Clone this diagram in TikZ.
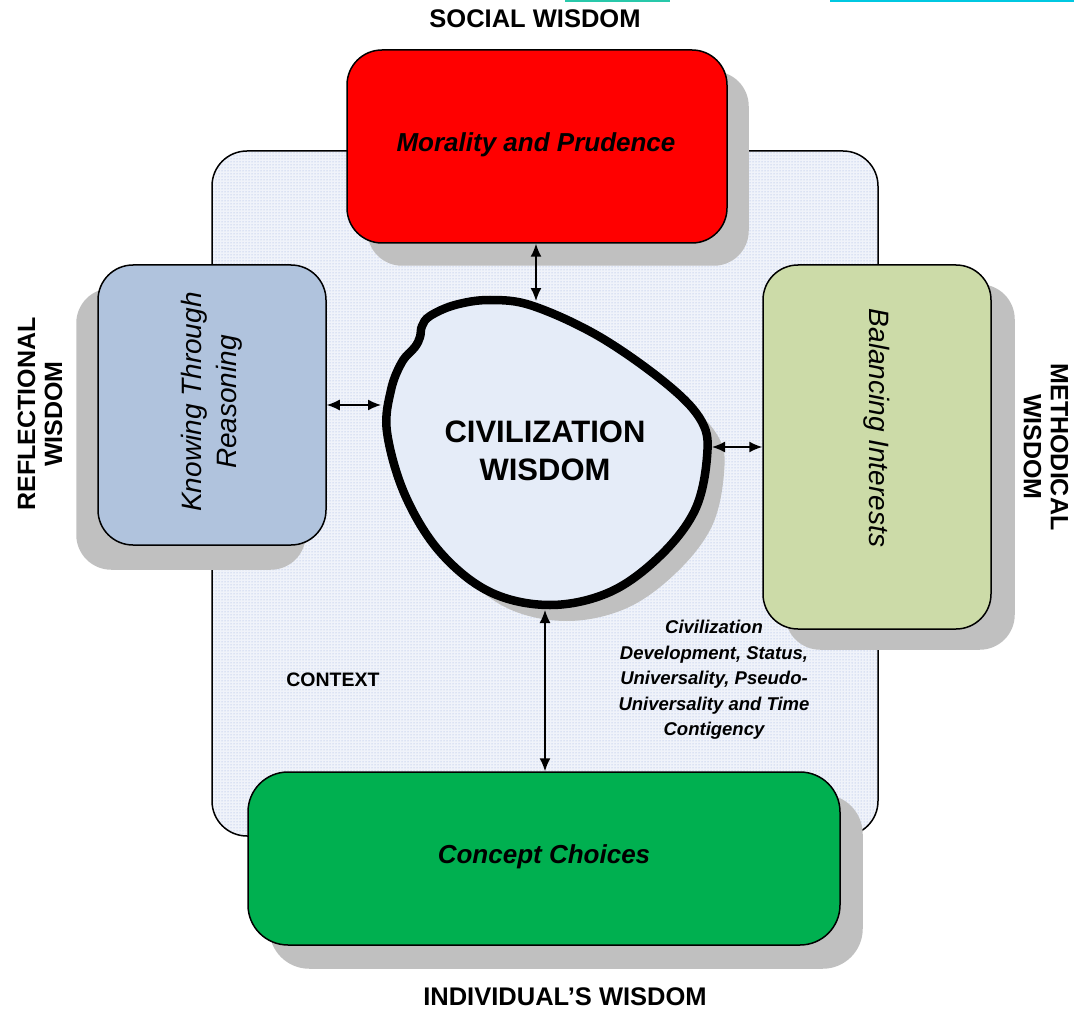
\documentclass[tikz,border=0pt]{standalone}
\usepackage{fontspec}
\setmainfont{Liberation Sans}
\usetikzlibrary{arrows.meta,calc,patterns}
\definecolor{ctxfill}{RGB}{240,243,250}
\definecolor{dotc}{RGB}{150,172,222}
\definecolor{shadowc}{RGB}{192,192,192}
\definecolor{redbox}{RGB}{255,0,0}
\definecolor{bluebox}{RGB}{176,195,221}
\definecolor{lgreenbox}{RGB}{204,219,168}
\definecolor{greenbox}{RGB}{0,176,80}
\definecolor{blobfill}{RGB}{229,236,248}
\definecolor{tealline}{RGB}{40,200,170}
\definecolor{cyanline}{RGB}{0,200,225}
\pgfdeclarelayer{back}
\pgfdeclarelayer{shade}
\pgfsetlayers{back,shade,main}
\tikzset{
  box/.style={draw=black, line width=1.5pt, rounded corners=35pt, inner sep=0pt},
  boxtext/.style={inner sep=0pt, align=center, font=\itshape\fontsize{28}{35}\selectfont},
  boldtext/.style={inner sep=0pt, align=center, font=\bfseries\itshape\fontsize{26}{30}\selectfont},
  sidelabel/.style={inner sep=0pt, align=center, font=\bfseries\fontsize{25}{27}\selectfont},
  link/.style={line width=1.5pt, {Latex[length=13pt,width=11pt]}-{Latex[length=13pt,width=11pt]}},
}
\begin{document}
\begin{tikzpicture}[x=1pt,y=-1pt]
\useasboundingbox (0,0) rectangle (1074,1011);

% top artifacts
\draw[tealline, line width=2.5pt] (565,1) -- (670,1);
\draw[cyanline, line width=2.5pt] (830,1) -- (1074,1);

% context
\begin{pgfonlayer}{back}
\fill[ctxfill, rounded corners=35pt] (212,151) rectangle (878,836);
\fill[pattern=dots, pattern color=dotc, rounded corners=35pt] (212,151) rectangle (878,836);
\draw[line width=1.5pt, rounded corners=35pt] (212,151) rectangle (878,836);
\end{pgfonlayer}
\node[sidelabel, font=\bfseries\fontsize{19.5}{22}\selectfont] (ctx) at (333,680) {CONTEXT};

% boxes
\node[box, fill=redbox, minimum width=380pt, minimum height=193pt] (red) at (537,146.5) {};
\node[boldtext] (redt) at (536,145) {Morality and Prudence};

\node[box, fill=bluebox, minimum width=228pt, minimum height=280pt] (blue) at (212,405) {};
\node[boxtext, rotate=90] (bluet) at (212,402) {Knowing Through\\Reasoning};

\node[box, fill=lgreenbox, minimum width=228pt, minimum height=364pt] (lgreen) at (877,447) {};
\node[boxtext, rotate=-90] (lgreent) at (877,428) {Balancing Interests};

\node[box, fill=greenbox, rounded corners=40pt, minimum width=592pt, minimum height=173pt] (green) at (544,858.5) {};
\node[boldtext] (greent) at (544,857) {Concept Choices};

\begin{pgfonlayer}{shade}
\fill[shadowc, rounded corners=35pt] ($(red.south west)+(21,22)$) rectangle ($(red.north east)+(21,22)$);
\fill[shadowc, rounded corners=35pt] ($(blue.south west)+(-21,24)$) rectangle ($(blue.north east)+(-21,24)$);
\fill[shadowc, rounded corners=35pt] ($(lgreen.south west)+(23,20)$) rectangle ($(lgreen.north east)+(23,20)$);
\fill[shadowc, rounded corners=40pt] ($(green.south west)+(22,23)$) rectangle ($(green.north east)+(22,23)$);
\fill[shadowc, shift={(17,16)}] plot[smooth cycle, tension=0.6] coordinates {
  (430,316) (455,305) (490,300) (533,306) (600,337) (668,385) (702,422) (707,457) (695,510)
  (660,556) (610,592) (550,605) (490,592) (440,552) (405,495) (387,432) (391,390)
  (402,362) (415,347) (420,337) (422,326)};
\end{pgfonlayer}

% blob
\draw[fill=blobfill, line width=8.5pt] plot[smooth cycle, tension=0.6] coordinates {
  (430,316) (455,305) (490,300) (533,306) (600,337) (668,385) (702,422) (707,457) (695,510)
  (660,556) (610,592) (550,605) (490,592) (440,552) (405,495) (387,432) (391,390)
  (402,362) (415,347) (420,337) (422,326)};
\node[sidelabel, font=\bfseries\fontsize{31}{38}\selectfont] (civ) at (545,451) {CIVILIZATION\\WISDOM};

\coordinate (bN) at (536,301);
\coordinate (bW) at (381,405);
\coordinate (bE) at (712,447);
\coordinate (bS) at (545,610);

\draw[link] (red.south -| bN) -- (bN);
\draw[link] (blue.east |- bW) -- (bW);
\draw[link] (bE) -- (lgreen.west |- bE);
\draw[link] (bS) -- (green.north -| bS);

\node[inner sep=0pt, align=center, font=\bfseries\itshape\fontsize{18.5}{25.5}\selectfont] (note) at (714,680)
  {Civilization\\Development, Status,\\Universality, Pseudo-\\Universality and Time\\Contigency};

% outer labels
\node[sidelabel, font=\bfseries\fontsize{25.5}{27}\selectfont] (social) at (535,19) {SOCIAL WISDOM};
\node[sidelabel, font=\bfseries\fontsize{25.5}{27}\selectfont] (indiv) at (565,997) {INDIVIDUAL'S WISDOM};
\node[sidelabel, rotate=90] (refl) at (40,414) {REFLECTIONAL\\WISDOM};
\node[sidelabel, rotate=-90] (meth) at (1046,447) {METHODICAL\\WISDOM};
\end{tikzpicture}
\end{document}
